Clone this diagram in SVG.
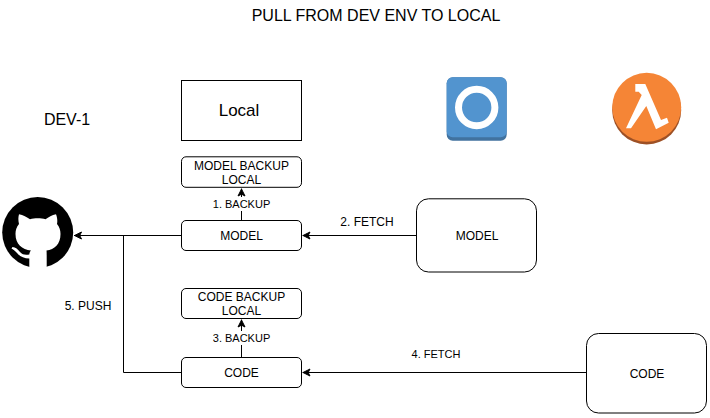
<svg xmlns="http://www.w3.org/2000/svg" width="710" height="418" viewBox="0 0 710 418">
<defs>
<style>
text{font-family:"Liberation Sans",Arial,sans-serif;fill:#000;text-anchor:middle}
.s{font-size:12px}
.l{font-size:11px}
.box{fill:#fff;stroke:#000;stroke-width:1}
.c{fill:none;stroke:#000;stroke-width:1}
</style>
<marker id="a" markerUnits="userSpaceOnUse" markerWidth="10" markerHeight="10" refX="8" refY="5" orient="auto">
<path d="M0.500 1.500L7.500 5L0.500 8.500L2.300 5Z" fill="#000" stroke="#000" stroke-width="1"/>
</marker>
</defs>
<rect width="710" height="418" fill="#fff"/>
<text id="title" x="376" y="21" font-size="16">PULL FROM DEV ENV TO LOCAL</text>
<text id="dev" x="67" y="125" font-size="16">DEV-1</text>
<g id="connectors">
<path class="c" d="M241.500 220.500V188.500" marker-end="url(#a)"/>
<path class="c" d="M181.500 235.500H74" marker-end="url(#a)"/>
<path class="c" d="M181.500 372.500H123.500V235.500"/>
<path class="c" d="M416.500 235.500H302.500" marker-end="url(#a)"/>
<path class="c" d="M241.500 357.500V319.500" marker-end="url(#a)"/>
<path class="c" d="M586.500 372.500H302.500" marker-end="url(#a)"/>
</g>
<g id="edge-labels">
<rect x="212" y="197" width="59" height="14" fill="#fff"/>
<text class="l" x="241.500" y="208">1. BACKUP</text>
<text class="s" x="367" y="226">2. FETCH</text>
<rect x="212" y="331" width="59" height="14" fill="#fff"/>
<text class="l" x="241.500" y="342">3. BACKUP</text>
<text class="l" x="436" y="358">4. FETCH</text>
<text class="s" x="88" y="310">5. PUSH</text>
</g>
<g id="local"><rect class="box" x="181.500" y="80.500" width="120" height="60"/><text x="239" y="116" font-size="17">Local</text></g>
<g id="model-backup"><rect class="box" x="181.500" y="156.800" width="120" height="30.500" rx="4.500"/><text class="s" x="241.500" y="170">MODEL BACKUP</text><text class="s" x="241.500" y="184">LOCAL</text></g>
<g id="model"><rect class="box" x="181.500" y="220.500" width="120" height="30" rx="4.500"/><text class="s" x="241.500" y="240">MODEL</text></g>
<g id="code-backup"><rect class="box" x="181.500" y="288.500" width="120" height="30" rx="4.500"/><text class="s" x="241.500" y="301">CODE BACKUP</text><text class="s" x="241.500" y="315">LOCAL</text></g>
<g id="code"><rect class="box" x="181.500" y="357.500" width="120" height="30" rx="4.500"/><text class="s" x="241.500" y="377">CODE</text></g>
<g id="model-remote"><rect class="box" x="416.500" y="198.800" width="120" height="73.200" rx="12"/><text class="s" x="477" y="240">MODEL</text></g>
<g id="code-remote"><rect class="box" x="586.500" y="333.500" width="120" height="79.500" rx="12"/><text class="s" x="647" y="378">CODE</text></g>
<g id="s3-icon">
<rect x="446.700" y="77.300" width="60" height="63.400" rx="6" fill="#41729f"/>
<rect x="446.700" y="77.300" width="60" height="60" rx="6" fill="#5294cf"/>
<circle cx="476.700" cy="107.500" r="18.200" fill="none" stroke="#fff" stroke-width="7"/>
</g>
<g id="lambda-icon">
<circle cx="646.700" cy="110" r="34.500" fill="#9d5025"/>
<circle cx="646.700" cy="107.300" r="34.500" fill="#f58536"/>
<path d="M635.300 84H645.300L661 120L667 117.700L668.700 122.700L656 129.300L646.300 106L631 128.300H626L641.700 95L638.700 91.700H635.300Z" fill="#fff"/>
</g>
<g id="github-icon">
<circle cx="37.700" cy="232.500" r="35.500" fill="#000"/>
<path d="M19 214.300C23 215 27 217.500 30 219.300C34.500 218 41 218 45.500 219.300C48.500 217.500 52 215 56 214.300C57.500 218 57.500 221.500 57 224C59.500 227 60.500 230 60.500 234C60.500 244.500 54.500 249.500 46.500 250.500C46.700 252 46.700 254 46.700 257V270H29.300V258.500C24 258.500 20 256.500 17 253C15 250.500 13 249.500 11.500 248.500L12.500 247C15.500 247 18 249.500 20 252C22.500 255 25.500 255 29.300 254.500C29.500 252.500 30 251.500 31 250.500C22 249.500 15.500 244.500 15.500 234C15.500 230 16.500 227 19 224C18.300 221 18 218 19 214.300Z" fill="#fff"/>
</g>
</svg>
